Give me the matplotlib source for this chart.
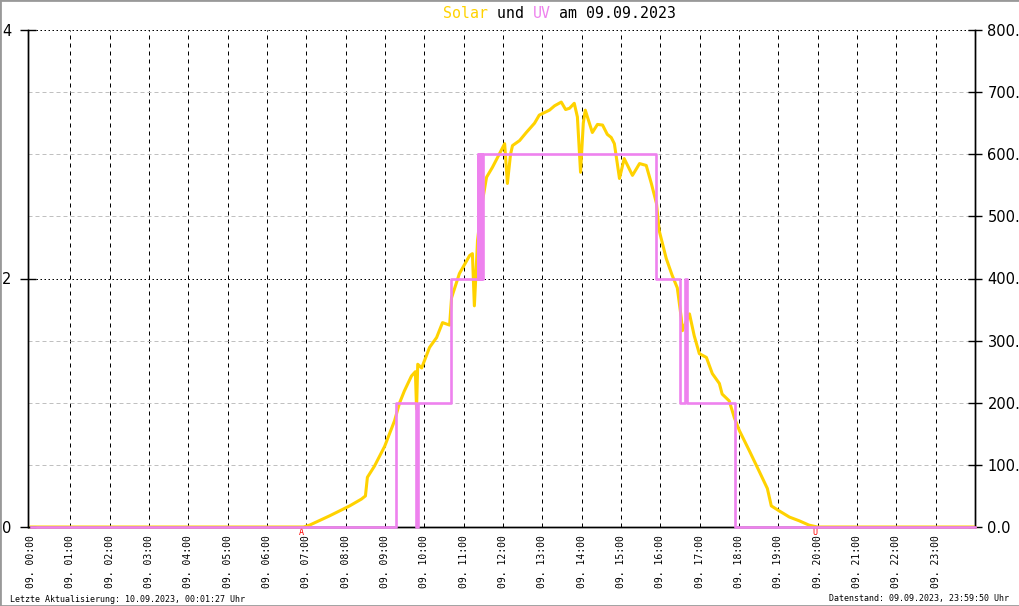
import matplotlib
matplotlib.use("Agg")
import matplotlib.pyplot as plt
import matplotlib.transforms as mtransforms
from matplotlib.patches import Rectangle

plt.rcParams['lines.scale_dashes'] = False

# ---------------- data ----------------
# Solar radiation (W/m^2), time in hours of 09.09.2023
solar_hours = [0.0, 6.93, 7.08, 7.59, 8.10, 8.40, 8.50, 8.55, 8.73, 8.99, 9.24, 9.37,
               9.49, 9.67, 9.77, 9.80, 9.83, 9.93, 10.13, 10.31, 10.46, 10.64, 10.69,
               10.89, 11.15, 11.22, 11.27, 11.32, 11.35, 11.45, 11.58, 11.73, 11.91,
               12.04, 12.11, 12.19, 12.24, 12.42, 12.59, 12.80, 12.92, 13.18, 13.31,
               13.48, 13.59, 13.69, 13.81, 13.89, 13.97, 14.04, 14.09, 14.27, 14.40,
               14.53, 14.65, 14.75, 14.83, 14.96, 15.08, 15.29, 15.47, 15.64, 15.77,
               15.90, 15.97, 16.15, 16.30, 16.43, 16.53, 16.56, 16.74, 16.86, 16.99,
               17.17, 17.32, 17.50, 17.57, 17.75, 17.88, 18.01, 18.26, 18.51, 18.72,
               18.82, 19.02, 19.28, 19.53, 19.78, 19.99, 24.0]
solar_values = [0, 0, 3, 18, 34, 45, 50, 80, 98, 130, 171, 200,
                219, 243, 250, 190, 262, 256, 289, 305, 329, 325, 369,
                408, 437, 440, 356, 420, 461, 515, 563, 579, 601,
                617, 553, 600, 614, 622, 635, 650, 663, 671, 678,
                684, 672, 674, 682, 660, 571, 650, 671, 635, 648,
                647, 632, 627, 617, 561, 593, 566, 585, 582, 553,
                521, 477, 432, 405, 385, 337, 316, 343, 308, 279,
                273, 247, 231, 214, 203, 176, 155, 123, 90, 62,
                34, 26, 16, 10, 3, 0, 0]

# UV index, step changes (value holds from the given time on)
uv_hours = [0.0, 9.265, 9.787, 9.825, 10.664, 11.35, 11.37, 11.39, 11.41, 11.44,
            11.46, 11.49, 15.897, 16.506, 16.633, 16.684, 17.903, 24.0]
uv_values = [0, 1, 0, 1, 2, 3, 2, 3, 2, 3,
             2, 3, 2, 1, 2, 1, 0, 0]

hour_labels = ["09. %02d:00" % h for h in range(24)]
uv_ticks = [0, 2, 4]
solar_ticks = [0, 100, 200, 300, 400, 500, 600, 700, 800]
sunrise_h = 6.88
sunset_h = 19.94

title_parts = [("Solar", "#FFD200"), (" und ", "black"), ("UV", "#EE82EE"),
               (" am 09.09.2023", "black")]
footer_left = "Letzte Aktualisierung: 10.09.2023, 00:01:27 Uhr"
footer_right = "Datenstand: 09.09.2023, 23:59:50 Uhr"

# ---------------- figure ----------------
W, H = 1020, 606
fig = plt.figure(figsize=(W / 100, H / 100), dpi=100)
fig.patch.set_facecolor("white")

left, right, top, bottom = 28, 975, 30, 527
ax_s = fig.add_axes([left / W, 1 - bottom / H, (right - left) / W, (bottom - top) / H])
ax_s.set_xlim(-0.08, 24.0)
ax_s.set_ylim(0, 800)
ax_u = ax_s.twinx()

px = 0.72  # points per pixel
# grid lines
for h in range(1, 24):
    ax_s.axvline(h, color="black", lw=1 * px, linestyle=(0, (4 * px, 4 * px)), zorder=1)
for v in solar_ticks:
    if v % 400 == 0:
        ax_s.axhline(v, color="black", lw=1 * px, linestyle=(0, (1.5 * px, 2.5 * px)), zorder=1)
    else:
        ax_s.axhline(v, color="#c0c0c0", lw=1 * px, linestyle=(0, (4 * px, 3 * px)), zorder=1)

ax_s.plot(solar_hours, solar_values, color="#FFD200", lw=2.2, zorder=3,
          solid_joinstyle="round", clip_on=False)

ax_s.set_xticks(list(range(24)))
ax_s.set_xticklabels(hour_labels, rotation=90, family="DejaVu Sans Mono", fontsize=7)
ax_s.tick_params(axis="x", length=0, pad=6)

ax_u.set_ylim(0, 4)
ax_u.set_xlim(-0.08, 24.0)
ax_u.step(uv_hours, uv_values, where="post", color="#EE82EE", lw=1.9, zorder=4,
          clip_on=False)

# left axis: UV
ax_u.yaxis.set_ticks_position("left")
ax_u.yaxis.set_label_position("left")
ax_u.set_yticks(uv_ticks)
ax_u.set_yticklabels([str(v) for v in uv_ticks])
ax_u.tick_params(axis="y", which="both", left=True, right=False, labelleft=True,
                 labelright=False, direction="inout", length=12, width=1, pad=6,
                 labelsize=10.5, colors="black")

# right axis: Solar
ax_s.set_yticks(solar_ticks)
ax_s.set_yticklabels(["%.1f" % v for v in solar_ticks])
ax_s.tick_params(axis="y", which="both", left=False, right=True, labelleft=False,
                 labelright=True, direction="inout", length=10, width=1, pad=4,
                 labelsize=10.5, colors="black")

for a in (ax_s, ax_u):
    a.spines["top"].set_visible(False)
    for sp in ("left", "right", "bottom"):
        a.spines[sp].set_linewidth(1)
        a.spines[sp].set_color("black")
ax_u.spines["bottom"].set_zorder(0)

# sunrise / sunset markers
trans = mtransforms.blended_transform_factory(ax_s.transData, ax_s.transAxes)
ax_s.text(sunrise_h, -0.003, "A", transform=trans, ha="center", va="top",
          color="red", fontsize=6, family="DejaVu Sans Mono", clip_on=False)
ax_s.text(sunset_h, -0.003, "U", transform=trans, ha="center", va="top",
          color="red", fontsize=6, family="DejaVu Sans Mono", clip_on=False)

# title
fs_t = 10.7
cw = fs_t * 100 / 72 * 0.602
x0 = 443
i = 0
for txt, col in title_parts:
    fig.text((x0 + i * cw) / W, 1 - 13 / H, txt, color=col, fontsize=fs_t,
             family="DejaVu Sans Mono", ha="left", va="center")
    i += len(txt)

# footers
fig.text(10 / W, 1 - 599 / H, footer_left, fontsize=6, family="DejaVu Sans Mono",
         ha="left", va="center")
fig.text(1009 / W, 1 - 599 / H, footer_right, fontsize=6, family="DejaVu Sans Mono",
         ha="right", va="center")

# outer frame
fig.patches.append(Rectangle((0, 0), 1, 1, transform=fig.transFigure, fill=False,
                             edgecolor="#999999", lw=2))

fig.savefig("out.png", dpi=100)
